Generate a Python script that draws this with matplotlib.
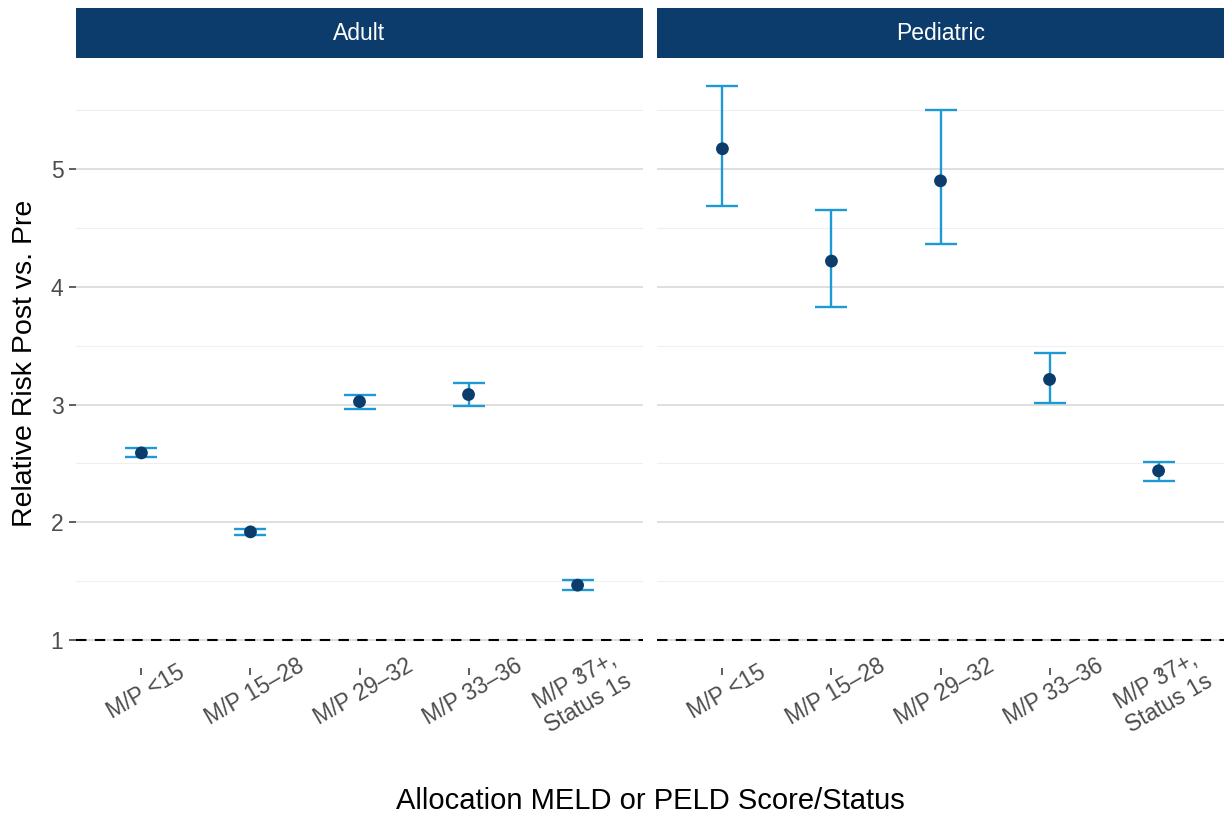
import matplotlib
matplotlib.use("Agg")
import matplotlib.pyplot as plt
import matplotlib.transforms as mtransforms
import numpy as np

plt.rcParams['font.family'] = ['Liberation Sans', 'DejaVu Sans']

categories = ["M/P <15", "M/P 15\u201328", "M/P 29\u201332", "M/P 33\u201336", "M/P 37+,\nStatus 1s"]
panels = ["Adult", "Pediatric"]

adult_rr = [2.59, 1.92, 3.025, 3.085, 1.468]
adult_lo = [2.555, 1.895, 2.966, 2.99, 1.428]
adult_hi = [2.63, 1.945, 3.077, 3.18, 1.51]

ped_rr = [5.17, 4.217, 4.898, 3.213, 2.438]
ped_lo = [4.685, 3.826, 4.362, 3.009, 2.353]
ped_hi = [5.706, 4.651, 5.502, 3.434, 2.515]

data = {
    "Adult": (adult_rr, adult_lo, adult_hi),
    "Pediatric": (ped_rr, ped_lo, ped_hi),
}

W, H = 1227, 817
fig = plt.figure(figsize=(W / 100, H / 100), dpi=100)

navy = "#0C3C6C"
blue = "#1D9AD6"
grid_major = "#D9D9D9"
grid_minor = "#EFEFEF"

panel_x = [(76, 643), (657, 1224)]
ptop, pbot = 58, 668
stop = 8

ymin, ymax = 0.765, 5.94

offset = mtransforms.ScaledTranslation(4 / 100, -2 / 100, fig.dpi_scale_trans)

for i, name in enumerate(panels):
    x0, x1 = panel_x[i]
    ax = fig.add_axes([x0 / W, 1 - pbot / H, (x1 - x0) / W, (pbot - ptop) / H])
    rr, lo, hi = data[name]
    xs = np.arange(len(categories))
    yerr = [np.array(rr) - np.array(lo), np.array(hi) - np.array(rr)]
    ax.errorbar(xs, rr, yerr=yerr, fmt='none', ecolor=blue, elinewidth=1.7,
                capsize=11.5, capthick=1.7, zorder=3)
    ax.scatter(xs, rr, s=85, color=navy, zorder=4, edgecolors='none')
    ax.axhline(1, color='black', linestyle=(0, (5, 4)), linewidth=1.5, zorder=2)
    ax.set_xlim(-0.6, len(categories) - 0.4)
    ax.set_ylim(ymin, ymax)
    ax.set_yticks([1, 2, 3, 4, 5])
    ax.set_yticks([1.5, 2.5, 3.5, 4.5, 5.5], minor=True)
    ax.grid(axis='y', which='major', color=grid_major, linewidth=1.2, zorder=0)
    ax.grid(axis='y', which='minor', color=grid_minor, linewidth=0.8, zorder=0)
    ax.set_axisbelow(True)
    for s in ax.spines.values():
        s.set_visible(False)
    ax.set_xticks(xs)
    ax.tick_params(axis='x', length=5, width=1.1, color='#333333', pad=11)
    ax.tick_params(axis='x', which='minor', length=0)
    ax.set_xticklabels(categories, rotation=30, ha='center', va='center',
                       multialignment='center', fontsize=16.5, color='#4D4D4D')
    if i == 0:
        ax.set_yticklabels(["1", "2", "3", "4", "5"], fontsize=16.5, color='#4D4D4D')
        ax.tick_params(axis='y', length=5, width=1.1, color='#333333', pad=4)
        ax.tick_params(axis='y', which='minor', length=0)
    else:
        ax.tick_params(axis='y', which='both', length=0, labelleft=False)
    for tick in ax.xaxis.get_major_ticks():
        tick.label1.set_transform(tick.label1.get_transform() + offset)

    sax = fig.add_axes([x0 / W, 1 - ptop / H, (x1 - x0) / W, (ptop - stop) / H])
    sax.set_facecolor(navy)
    sax.set_xticks([])
    sax.set_yticks([])
    for s in sax.spines.values():
        s.set_visible(False)
    sax.text(0.5, 0.5, name, color='white', fontsize=16.5, ha='center', va='center',
             transform=sax.transAxes)

fig.text(25 / W, 1 - 363 / H, "Relative Risk Post vs. Pre", rotation=90,
         ha='center', va='center', fontsize=20.5)
fig.text(650 / W, 1 - 801 / H, "Allocation MELD or PELD Score/Status",
         ha='center', va='center', fontsize=21)

fig.savefig("out.png", dpi=100)
